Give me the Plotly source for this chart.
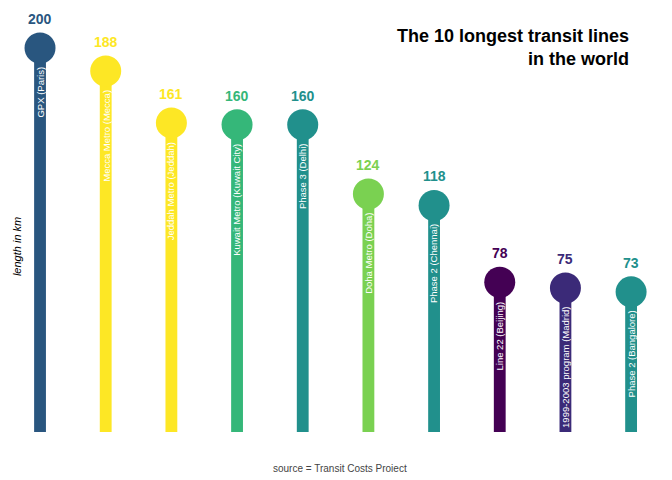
import plotly.graph_objects as go

lines = ["GPX (Paris)", "Mecca Metro (Mecca)", "Jeddah Metro (Jeddah)", "Kuwait Metro (Kuwait City)",
         "Phase 3 (Delhi)", "Doha Metro (Doha)", "Phase 2 (Chennai)", "Line 22 (Beijing)",
         "1999-2003 program (Madrid)", "Phase 2 (Bangalore)"]
length_km = [200, 188, 161, 160, 160, 124, 118, 78, 75, 73]
colors = ["#29567F", "#FDE725", "#FDE725", "#35B779", "#21908C", "#7AD151", "#21908C",
          "#440154", "#3B2A78", "#21908C"]

x = list(range(len(lines)))
fig = go.Figure()
fig.add_trace(go.Bar(x=x, y=length_km, width=0.18, marker=dict(color=colors, line=dict(width=0)),
                     hoverinfo="skip"))
fig.add_trace(go.Scatter(x=x, y=length_km, mode="markers",
                         marker=dict(size=31, color=colors, line=dict(width=0)),
                         hoverinfo="skip"))
ann = []
for i, (n, v, c) in enumerate(zip(lines, length_km, colors)):
    ann.append(dict(x=i, y=v, text=f"<b>{v}</b>", showarrow=False, yanchor="middle", yshift=29,
                    font=dict(size=14, color=c)))
    ann.append(dict(x=i, y=v, text=n, showarrow=False, textangle=-90, yanchor="top", yshift=-17,
                    font=dict(size=9.5, color="white")))
ann.append(dict(xref="paper", yref="paper", x=0.955, y=0.99, xanchor="right", yanchor="top", align="right",
                text="<b>The 10 longest transit lines<br>in the world</b>", showarrow=False,
                font=dict(size=18, color="black")))
ann.append(dict(xref="paper", yref="paper", x=0.5, y=-0.07, xanchor="center", yanchor="top",
                text="source = Transit Costs Project<br>8 January 2021", showarrow=False,
                font=dict(size=10, color="#444")))
ann.append(dict(xref="paper", yref="paper", x=-0.018, y=0.45, xanchor="left", yanchor="middle",
                text="<i>length in km</i>", textangle=-90, showarrow=False,
                font=dict(size=11, color="black")))
fig.update_layout(
    width=656, height=464, showlegend=False, plot_bgcolor="white", paper_bgcolor="white",
    margin=dict(l=12, r=4, t=12, b=40), annotations=ann,
    font=dict(family="Liberation Sans, Arial, sans-serif"),
    xaxis=dict(range=[-0.305, 9.44], visible=False),
    yaxis=dict(range=[0, 214.6], visible=False),
)
fig.write_html("out.html")
